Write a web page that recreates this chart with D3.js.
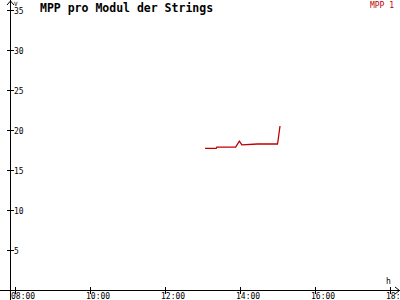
<!DOCTYPE html>
<html>
<head>
<meta charset="utf-8">
<script src="https://cdn.jsdelivr.net/npm/d3@7"></script>
<style>
  body { margin: 0; background: #fff; }
  svg { display: block; }
  text { font-family: "DejaVu Sans Mono", monospace; }
</style>
</head>
<body>
<div id="chart"></div>
<script>
// data
var title = "MPP pro Modul der Strings";
var seriesName = "MPP 1";
var times  = ["13:04", "13:22", "13:23", "13:53", "13:59", "14:03", "14:28", "15:00", "15:01", "15:04"];
var values = [17.7, 17.7, 17.85, 17.85, 18.6, 18.15, 18.25, 18.25, 18.75, 20.5];
var xTickLabels = ["08:00", "10:00", "12:00", "14:00", "16:00", "18:00"];
var yTicks = [5, 10, 15, 20, 25, 30, 35];

var w = 400, h = 300;
var parse = d3.timeParse("%H:%M");

var svg = d3.select("#chart").append("svg")
    .attr("width", w)
    .attr("height", h);

var x = d3.scaleTime()
    .domain([parse("08:00"), parse("18:00")])
    .range([15, 390]);
var y = d3.scaleLinear()
    .domain([0, 35])
    .range([290, 10]);

var axisX = 10, axisY = 290;

// axes lines
svg.append("line")
    .attr("x1", axisX + 0.5).attr("x2", axisX + 0.5)
    .attr("y1", 0).attr("y2", h)
    .attr("stroke", "#000").attr("stroke-width", 1);
svg.append("line")
    .attr("x1", 0).attr("x2", w)
    .attr("y1", axisY + 0.5).attr("y2", axisY + 0.5)
    .attr("stroke", "#000").attr("stroke-width", 1);

// arrows
svg.append("path")
    .attr("d", "M7,5 L10.5,1 L14,5")
    .attr("fill", "none").attr("stroke", "#000");
svg.append("path")
    .attr("d", "M395,287 L399.5,290.5 L395,294")
    .attr("fill", "none").attr("stroke", "#000");

// y ticks
var yt = svg.append("g").selectAll("g")
    .data(yTicks).enter().append("g");
yt.append("line")
    .attr("x1", axisX - 3).attr("x2", axisX + 4)
    .attr("y1", function(d) { return Math.round(y(d)) + 0.5; })
    .attr("y2", function(d) { return Math.round(y(d)) + 0.5; })
    .attr("stroke", "#000");
yt.append("text")
    .attr("x", axisX + 4)
    .attr("y", function(d) { return y(d) + 3.5; })
    .attr("font-size", "8px")
    .attr("fill", "#000")
    .text(function(d) { return d; });

// x ticks
var xt = svg.append("g").selectAll("g")
    .data(xTickLabels).enter().append("g");
xt.append("line")
    .attr("x1", function(d) { return Math.round(x(parse(d))) + 0.5; })
    .attr("x2", function(d) { return Math.round(x(parse(d))) + 0.5; })
    .attr("y1", axisY - 3).attr("y2", axisY + 4)
    .attr("stroke", "#000");
xt.append("text")
    .attr("x", function(d) { return x(parse(d)) - 4; })
    .attr("y", 299)
    .attr("font-size", "8px")
    .attr("fill", "#000")
    .text(function(d) { return d; });

// unit labels
svg.append("text")
    .attr("x", 14).attr("y", 6)
    .attr("font-size", "6px")
    .text("V");
svg.append("text")
    .attr("x", 386).attr("y", 284)
    .attr("font-size", "8px")
    .text("h");

// title + legend
svg.append("text")
    .attr("x", 40).attr("y", 12)
    .attr("font-size", "11.5px")
    .attr("font-weight", "bold")
    .text(title);
svg.append("text")
    .attr("x", 394).attr("y", 8)
    .attr("text-anchor", "end")
    .attr("font-size", "8px")
    .attr("fill", "#c00000")
    .text(seriesName);

// series
var pts = times.map(function(t, i) { return [parse(t), values[i]]; });
var line = d3.line()
    .x(function(d) { return x(d[0]); })
    .y(function(d) { return y(d[1]); });
svg.append("path")
    .datum(pts)
    .attr("d", line)
    .attr("fill", "none")
    .attr("stroke", "#c00000")
    .attr("stroke-width", 1.3);
</script>
</body>
</html>
